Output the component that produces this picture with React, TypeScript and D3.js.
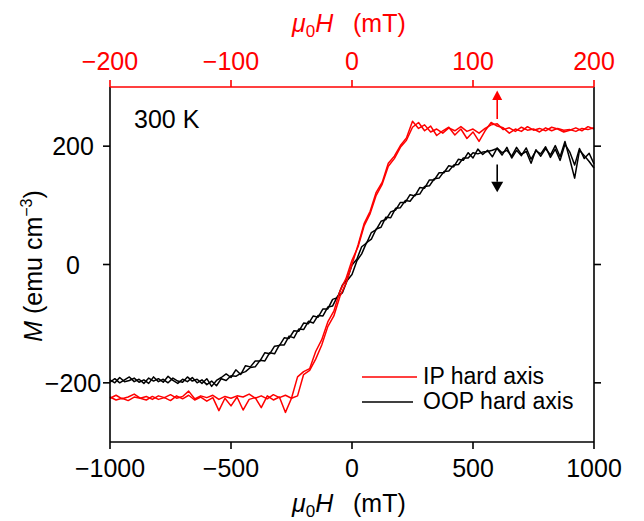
import React from "react";
import * as d3 from "d3";

// IP hard axis (top axis, mT)
const ipField = [
  -200, -195, -190, -185, -180, -175, -170, -165, -160, -155,
  -150, -145, -140, -135, -130, -125, -120, -115, -110, -105,
  -100, -95, -90, -85, -80, -75, -70, -65, -60, -55,
  -50, -45, -40, -35, -30, -25, -20, -15, -10, -5,
  0, 5, 10, 15, 20, 25, 30, 35, 40, 45,
  50, 55, 60, 65, 70, 75, 80, 85, 90, 95,
  100, 105, 110, 115, 120, 125, 130, 135, 140, 145,
  150, 155, 160, 165, 170, 175, 180, 185, 190, 195,
  200,
];
const ipUp = [
  -226, -221, -227, -224, -219, -226, -223, -228, -222, -225,
  -220, -226, -223, -214, -227, -222, -225, -221, -228, -223,
  -226, -222, -224, -219, -226, -222, -227, -220, -225, -221,
  -226, -222, -186, -179, -160, -136, -105, -87, -54, -32,
  0, 33, 69, 90, 122, 139, 171, 183, 201, 214,
  242, 230, 236, 224, 229, 222, 231, 226, 233, 225,
  229, 222, 230, 236, 238, 228, 231, 225, 232, 227,
  229, 224, 231, 226, 230, 227, 228, 225, 230, 228,
  231,
];
const ipDown = [
  -224, -229, -226, -230, -224, -226, -229, -223, -228, -225,
  -230, -222, -227, -221, -229, -224, -231, -225, -247, -226,
  -239, -224, -246, -228, -225, -242, -222, -229, -224, -250,
  -226, -190, -181, -176, -147, -127, -97, -79, -45, -24,
  7, 30, 65, 86, 117, 136, 166, 179, 198, 210,
  232, 240, 226, 234, 218, 226, 232, 219, 229, 213,
  224, 208, 226, 240, 234, 231, 222, 229, 225, 233,
  227, 230, 226, 232, 229, 224, 227, 231, 226, 233,
  229,
];

// OOP hard axis (bottom axis, mT)
const oopField = [
  -1000, -980, -960, -940, -920, -900, -880, -860, -840, -820,
  -800, -780, -760, -740, -720, -700, -680, -660, -640, -620,
  -600, -580, -560, -540, -520, -500, -480, -460, -440, -420,
  -400, -380, -360, -340, -320, -300, -280, -260, -240, -220,
  -200, -180, -160, -140, -120, -100, -80, -60, -40, -20,
  0, 20, 40, 60, 80, 100, 120, 140, 160, 180,
  200, 220, 240, 260, 280, 300, 320, 340, 360, 380,
  400, 420, 440, 460, 480, 500, 520, 540, 560, 580,
  600, 620, 640, 660, 680, 700, 720, 740, 760, 780,
  800, 820, 840, 860, 880, 900, 920, 940, 960, 980,
  1000,
];
const oopUp = [
  -199, -193, -200, -195, -190, -198, -194, -201, -192, -197,
  -193, -199, -189, -196, -201, -194, -198, -191, -200, -195,
  -203, -197, -205, -193, -196, -188, -189, -184, -181, -174,
  -173, -162, -163, -149, -151, -136, -136, -121, -124, -109,
  -110, -96, -99, -86, -87, -72, -70, -54, -48, -27,
  -17, 6, 18, 37, 43, 60, 63, 80, 79, 95,
  96, 108, 107, 118, 119, 132, 133, 145, 146, 157,
  158, 168, 169, 180, 180, 189, 187, 190, 191, 193,
  196, 185, 198, 180, 193, 184, 197, 178, 192, 187,
  199, 181, 195, 176, 203, 190, 168, 196, 179, 188,
  170,
];
const oopDown = [
  -195, -200, -191, -198, -196, -192, -199, -195, -201, -190,
  -198, -194, -200, -192, -197, -199, -190, -197, -194, -201,
  -193, -206, -196, -191, -185, -191, -178, -186, -171, -173,
  -163, -163, -149, -151, -138, -137, -124, -125, -112, -113,
  -99, -100, -87, -89, -75, -75, -59, -56, -35, -25,
  -1, 9, 30, 36, 54, 59, 73, 76, 89, 92,
  105, 105, 118, 116, 130, 129, 143, 143, 155, 155,
  167, 165, 178, 176, 189, 180, 195, 186, 193, 182,
  197, 189, 193, 183, 198, 186, 191, 171, 194, 183,
  196, 185, 201, 182, 208, 178, 146, 193, 184, 174,
  163,
];

const bottomTicks = [-1000, -500, 0, 500, 1000];
const topTicks = [-200, -100, 0, 100, 200];
const leftTicks = [-200, 0, 200];

const RED = "#ff0000";
const FONT = "'Liberation Sans', Arial, Helvetica, sans-serif";

export default function App() {
  const W = 644;
  const H = 521;
  const left = 110, right = 594, top = 87, bottom = 442;
  const xBot = d3.scaleLinear().domain([-1000, 1000]).range([left, right]);
  const xTop = d3.scaleLinear().domain([-200, 200]).range([left, right]);
  const y = d3.scaleLinear().domain([-300, 300]).range([bottom, top]);

  const ipLine = d3
    .line<number>()
    .x((_, i) => xTop(ipField[i]))
    .y((d) => y(d));
  const oopLine = d3
    .line<number>()
    .x((_, i) => xBot(oopField[i]))
    .y((d) => y(d));

  const fs = 25;
  const axisW = 1.6;
  const tickLen = 7;
  const dataW = 1.5;

  // arrows
  const ax = xTop(120);
  const redShaftBottom = y(246);
  const redHeadBase = y(278);
  const redTip = y(294);
  const blkShaftTop = y(169);
  const blkHeadBase = y(140);
  const blkTip = y(122);

  return (
    <svg
      width={W}
      height={H}
      style={{ position: "absolute", left: 0, top: 0, background: "#fff" }}
      fontFamily={FONT}
    >
      {/* data */}
      <path d={oopLine(oopUp) || ""} fill="none" stroke="#000" strokeWidth={dataW} strokeLinejoin="round" />
      <path d={oopLine(oopDown) || ""} fill="none" stroke="#000" strokeWidth={dataW} strokeLinejoin="round" />
      <path d={ipLine(ipUp) || ""} fill="none" stroke={RED} strokeWidth={dataW} strokeLinejoin="round" />
      <path d={ipLine(ipDown) || ""} fill="none" stroke={RED} strokeWidth={dataW} strokeLinejoin="round" />

      {/* frame */}
      <line x1={left} x2={left} y1={top} y2={bottom} stroke="#000" strokeWidth={axisW} />
      <line x1={right} x2={right} y1={top} y2={bottom} stroke="#000" strokeWidth={axisW} />
      <line x1={left} x2={right} y1={bottom} y2={bottom} stroke="#000" strokeWidth={axisW} />
      <line x1={left} x2={right} y1={top} y2={top} stroke={RED} strokeWidth={axisW} />

      {/* bottom ticks */}
      {bottomTicks.map((t) => (
        <g key={"b" + t}>
          <line x1={xBot(t)} x2={xBot(t)} y1={bottom} y2={bottom + tickLen} stroke="#000" strokeWidth={axisW} />
          <text x={xBot(t)} y={477} textAnchor="middle" fontSize={fs} fill="#000">
            {t < 0 ? "\u2212" + Math.abs(t) : String(t)}
          </text>
        </g>
      ))}
      {/* top ticks */}
      {topTicks.map((t) => (
        <g key={"t" + t}>
          <line x1={xTop(t)} x2={xTop(t)} y1={top} y2={top - tickLen} stroke={RED} strokeWidth={axisW} />
          <text x={xTop(t)} y={70} textAnchor="middle" fontSize={fs} fill={RED}>
            {t < 0 ? "\u2212" + Math.abs(t) : String(t)}
          </text>
        </g>
      ))}
      {/* left / right ticks */}
      {leftTicks.map((t) => (
        <g key={"l" + t}>
          <line x1={left - tickLen} x2={left} y1={y(t)} y2={y(t)} stroke="#000" strokeWidth={axisW} />
          <line x1={right} x2={right + tickLen} y1={y(t)} y2={y(t)} stroke="#000" strokeWidth={axisW} />
          <text x={73} y={y(t) + 9} textAnchor="middle" fontSize={fs} fill="#000">
            {t < 0 ? "\u2212" + Math.abs(t) : String(t)}
          </text>
        </g>
      ))}

      {/* axis titles */}
      <text x={292} y={32} fontSize={fs} fill={RED}>
        <tspan fontStyle="italic">μ</tspan>
        <tspan fontSize={17} dy={5}>0</tspan>
        <tspan fontStyle="italic" dy={-5}>H</tspan>
      </text>
      <text x={353} y={32} fontSize={fs} fill={RED}>(mT)</text>

      <text x={292} y={512} fontSize={fs} fill="#000">
        <tspan fontStyle="italic">μ</tspan>
        <tspan fontSize={17} dy={5}>0</tspan>
        <tspan fontStyle="italic" dy={-5}>H</tspan>
      </text>
      <text x={353} y={512} fontSize={fs} fill="#000">(mT)</text>

      <text transform="translate(42,266) rotate(-90)" textAnchor="middle" fontSize={fs} fill="#000">
        <tspan fontStyle="italic">M</tspan>
        <tspan> (emu cm</tspan>
        <tspan fontSize={16} dy={-10}>{"\u22123"}</tspan>
        <tspan dy={10}>)</tspan>
      </text>

      <text x={134} y={128} fontSize={fs} fill="#000">300 K</text>

      {/* arrows */}
      <line x1={ax} x2={ax} y1={redShaftBottom} y2={redHeadBase} stroke={RED} strokeWidth={1.6} />
      <path d={`M${ax - 5},${redHeadBase} L${ax + 5},${redHeadBase} L${ax},${redTip} Z`} fill={RED} />
      <line x1={ax} x2={ax} y1={blkShaftTop} y2={blkHeadBase} stroke="#000" strokeWidth={1.6} />
      <path d={`M${ax - 6},${blkHeadBase} L${ax + 6},${blkHeadBase} L${ax},${blkTip} Z`} fill="#000" />

      {/* legend */}
      <line x1={362} x2={417} y1={377} y2={377} stroke={RED} strokeWidth={1.5} />
      <text x={423} y={384} fontSize={23} fill="#000">IP hard axis</text>
      <line x1={362} x2={413} y1={402} y2={402} stroke="#000" strokeWidth={1.5} />
      <text x={423} y={409} fontSize={23} fill="#000">OOP hard axis</text>
    </svg>
  );
}
